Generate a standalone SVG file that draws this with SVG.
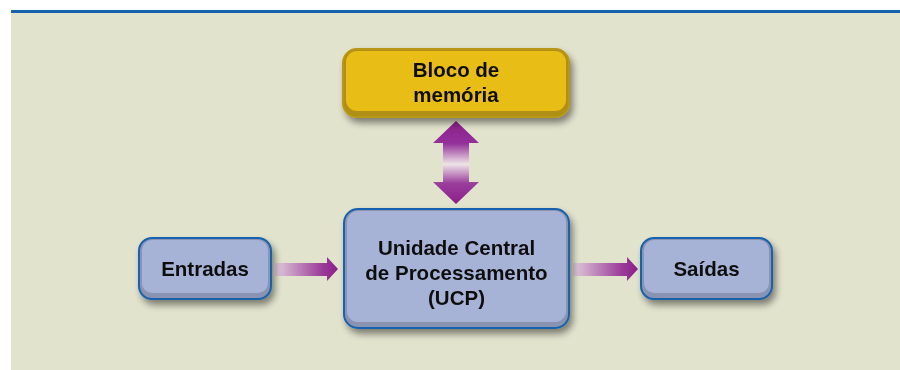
<svg xmlns="http://www.w3.org/2000/svg" width="900" height="370" viewBox="0 0 900 370">
  <defs>
    <filter id="shadow" x="-20%" y="-20%" width="140%" height="160%">
      <feGaussianBlur in="SourceAlpha" stdDeviation="3.5"/>
      <feOffset dx="3" dy="5" result="b"/>
      <feComponentTransfer><feFuncA type="linear" slope="0.45"/></feComponentTransfer>
      <feMerge><feMergeNode/><feMergeNode in="SourceGraphic"/></feMerge>
    </filter>
    <linearGradient id="gLeft" gradientUnits="userSpaceOnUse" x1="275" y1="0" x2="338" y2="0">
      <stop offset="0" stop-color="#E0CCDA"/>
      <stop offset="0.75" stop-color="#9A3C98"/>
      <stop offset="1" stop-color="#8B1F8A"/>
    </linearGradient>
    <linearGradient id="gRight" gradientUnits="userSpaceOnUse" x1="573" y1="0" x2="638" y2="0">
      <stop offset="0" stop-color="#E0CCDA"/>
      <stop offset="0.75" stop-color="#9A3C98"/>
      <stop offset="1" stop-color="#8B1F8A"/>
    </linearGradient>
    <linearGradient id="gVert" gradientUnits="userSpaceOnUse" x1="0" y1="121" x2="0" y2="204">
      <stop offset="0" stop-color="#8B1F8A"/>
      <stop offset="0.27" stop-color="#94309A"/>
      <stop offset="0.52" stop-color="#EEE4E6"/>
      <stop offset="0.75" stop-color="#9A3E9C"/>
      <stop offset="1" stop-color="#8B1F8A"/>
    </linearGradient>
  </defs>
  <style>
    .blue-outer { fill: #8A93B2; stroke: #1562AE; stroke-width: 2; }
    .blue-inner { fill: #A7B3D6; }
    .yel-outer { fill: #B08F12; stroke: #B89612; stroke-width: 2; }
    .yel-inner { fill: #E8BD16; }
    .lbl { font-family: "Liberation Sans", Arial, Helvetica, sans-serif; font-weight: bold; font-size: 20.5px; fill: #111111; text-anchor: middle; }
  </style>
  <rect x="0" y="0" width="900" height="370" fill="#FFFFFF"/>
  <rect x="11" y="10" width="889" height="360" fill="#E2E3CD"/>
  <rect x="11" y="10" width="889" height="3" fill="#1562AE"/>

  <g id="connectors">
    <path d="M275,263 H327 V257 L338,269 L327,281 V276 H275 Z" fill="url(#gLeft)"/>
    <path d="M573,263 H627 V257 L638,269 L627,281 V276 H573 Z" fill="url(#gRight)"/>
    <path d="M456,121 L479,143 H469 V182 H479 L456,204 L433,182 H443 V143 H433 Z" fill="url(#gVert)"/>
  </g>

  <g id="memoria" filter="url(#shadow)">
    <rect class="yel-outer" x="343" y="49" width="226" height="68" rx="14"/>
    <rect class="yel-inner" x="346" y="51" width="220" height="60" rx="11"/>
    <text class="lbl" x="456" y="77">Bloco de</text>
    <text class="lbl" x="456" y="102">memória</text>
  </g>

  <g id="entradas" filter="url(#shadow)">
    <rect class="blue-outer" x="139" y="238" width="132" height="61" rx="13"/>
    <rect class="blue-inner" x="142" y="240" width="126" height="53" rx="10"/>
    <text class="lbl" x="205" y="276">Entradas</text>
  </g>

  <g id="ucp" filter="url(#shadow)">
    <rect class="blue-outer" x="344" y="209" width="225" height="119" rx="14"/>
    <rect class="blue-inner" x="347" y="211" width="219" height="111" rx="11"/>
    <text class="lbl" x="456.5" y="255">Unidade Central</text>
    <text class="lbl" x="456.5" y="280">de Processamento</text>
    <text class="lbl" x="456.5" y="305">(UCP)</text>
  </g>

  <g id="saidas" filter="url(#shadow)">
    <rect class="blue-outer" x="641" y="238" width="131" height="61" rx="13"/>
    <rect class="blue-inner" x="644" y="240" width="125" height="53" rx="10"/>
    <text class="lbl" x="706.5" y="276">Saídas</text>
  </g>
</svg>
